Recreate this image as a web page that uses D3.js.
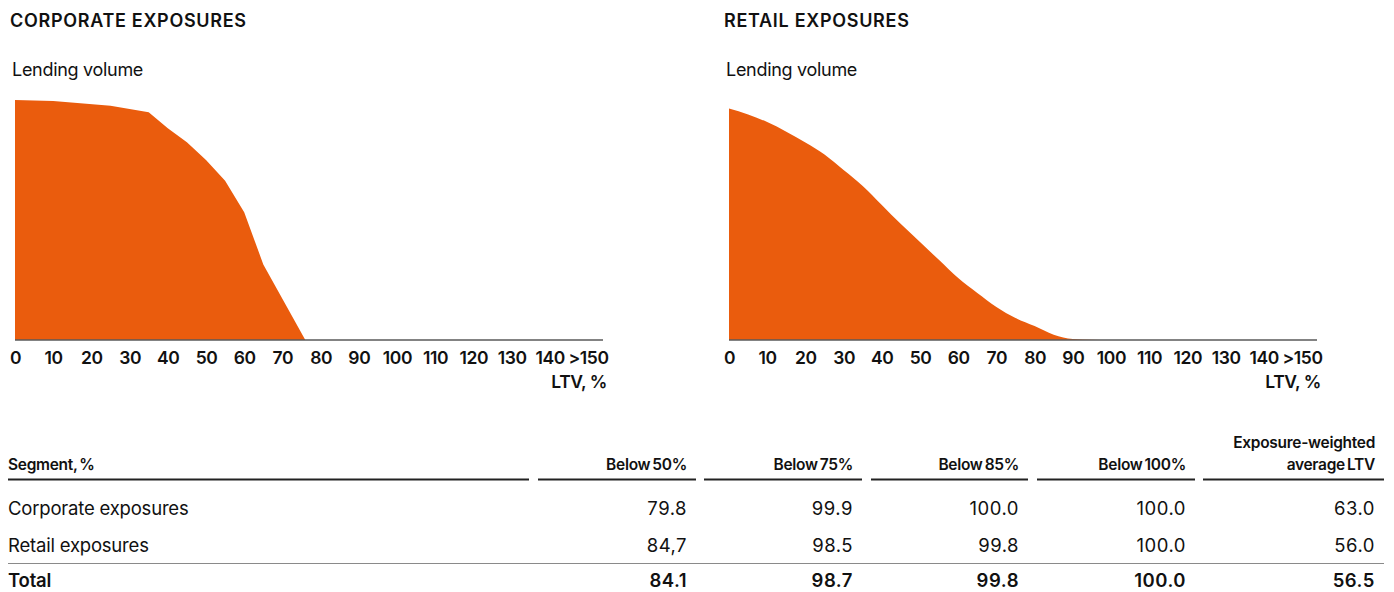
<!DOCTYPE html>
<html>
<head>
<meta charset="utf-8">
<script src="https://cdn.jsdelivr.net/npm/d3@7"></script>
<style>
  html, body { margin: 0; padding: 0; background: #fff; }
  svg { display: block; font-family: Inter, "Noto Sans", sans-serif; }
</style>
</head>
<body>
<svg id="chart" width="1394" height="592"></svg>
<script>
// LTV distribution of lending volume (relative volume, 100 = peak of corporate curve)
const corporateLTV    = [0, 10, 25, 35, 40, 45, 50, 55, 60, 65, 76];
const corporateVolume = [100, 99.6, 97.6, 94.9, 88.2, 82.4, 75, 66.4, 53.2, 31.5, 0];

const retailLTV    = [0, 5, 10, 15, 20, 25, 30, 35, 40, 45, 50, 55, 60, 65, 70, 75, 80, 85, 90, 95, 100];
const retailVolume = [96.5, 94.0, 90.8, 86.8, 82.3, 77.3, 70.8, 64.2, 56.3, 48.3, 40.8, 33.3, 25.8, 19.6, 13.8, 9.2, 5.8, 2.2, 0.4, 0.1, 0];

const tickValues = [0, 10, 20, 30, 40, 50, 60, 70, 80, 90, 100, 110, 120, 130, 140, 150];
const tickLabels = ["0", "10", "20", "30", "40", "50", "60", "70", "80", "90", "100", "110", "120", "130", "140", ">150"];

// Summary table
const columnHeaders = ["Segment, %", "Below 50%", "Below 75%", "Below 85%", "Below 100%", "Exposure-weighted|average LTV"];
const rowLabels = ["Corporate exposures", "Retail exposures", "Total"];
const below50  = ["79.8", "84,7", "84.1"];
const below75  = ["99.9", "98.5", "98.7"];
const below85  = ["100.0", "99.8", "99.8"];
const below100 = ["100.0", "100.0", "100.0"];
const avgLTV   = ["63.0", "56.0", "56.5"];

const svg = d3.select("#chart");
const ORANGE = "#EA5C0D";

const panels = [
  { title: "CORPORATE EXPOSURES", ltv: corporateLTV, vol: corporateVolume, left: 15, curve: d3.curveLinear },
  { title: "RETAIL EXPOSURES",    ltv: retailLTV,    vol: retailVolume,    left: 729, curve: d3.curveMonotoneX }
];

const plotTop = 100, plotBottom = 340, plotWidth = 588, scaleWidth = 573;
const y = d3.scaleLinear().domain([0, 100]).range([plotBottom, plotTop]);

panels.forEach(p => {
  const g = svg.append("g");
  const x = d3.scaleLinear().domain([0, 150]).range([p.left, p.left + scaleWidth]);

  g.append("text")
    .attr("x", p.left - 5).attr("y", 27)
    .attr("font-size", 18).attr("font-weight", 600)
    .attr("letter-spacing", 0.7)
    .attr("fill", "#111")
    .text(p.title);

  g.append("text")
    .attr("x", p.left - 3).attr("y", 76)
    .attr("font-size", 18).attr("font-weight", 400)
    .attr("letter-spacing", -0.3)
    .attr("fill", "#111")
    .text("Lending volume");

  const pts = p.ltv.map((v, i) => [v, p.vol[i]]);
  const area = d3.area()
    .x(d => x(d[0]))
    .y0(y(0))
    .y1(d => y(d[1]))
    .curve(p.curve);

  g.append("path")
    .datum(pts)
    .attr("d", area)
    .attr("fill", ORANGE);

  // baseline
  g.append("line")
    .attr("x1", p.left).attr("x2", p.left + plotWidth)
    .attr("y1", plotBottom).attr("y2", plotBottom)
    .attr("stroke", "#5a5a5a").attr("stroke-width", 1.6);

  const axis = d3.axisBottom(x)
    .tickValues(tickValues)
    .tickFormat((d, i) => tickLabels[i])
    .tickSize(0).tickPadding(0);

  const ag = g.append("g")
    .attr("transform", `translate(0,${plotBottom})`)
    .call(axis);
  ag.select(".domain").remove();
  ag.selectAll("text")
    .attr("y", 24)
    .attr("dy", 0)
    .attr("font-family", "Inter, sans-serif")
    .attr("font-size", 17.5).attr("font-weight", 600)
    .attr("letter-spacing", -0.4)
    .attr("fill", "#111");

  g.append("text")
    .attr("x", p.left + plotWidth + 4).attr("y", 388)
    .attr("text-anchor", "end")
    .attr("font-size", 17.5).attr("font-weight", 600)
    .attr("letter-spacing", -0.4)
    .attr("fill", "#111")
    .text("LTV, %");
});

// ---------- Table ----------
const cols = [
  { x0: 8,    x1: 529,  anchor: "start" },
  { x0: 538,  x1: 696,  anchor: "end" },
  { x0: 704,  x1: 862,  anchor: "end" },
  { x0: 871,  x1: 1028, anchor: "end" },
  { x0: 1037, x1: 1195, anchor: "end" },
  { x0: 1203, x1: 1384, anchor: "end" }
];
const pad = 9;
const tg = svg.append("g");

columnHeaders.forEach((h, i) => {
  const c = cols[i];
  const lines = h.split("|");
  const tx = c.anchor === "start" ? c.x0 : c.x1 - pad;
  lines.forEach((ln, j) => {
    tg.append("text")
      .attr("x", tx)
      .attr("y", 470 - (lines.length - 1 - j) * 22)
      .attr("text-anchor", c.anchor)
      .attr("font-size", 15.5).attr("font-weight", 600)
      .attr("letter-spacing", -0.3)
      .attr("word-spacing", -1.5)
      .attr("fill", "#111")
      .text(ln);
  });
  tg.append("line")
    .attr("x1", c.x0).attr("x2", c.x1)
    .attr("y1", 479.5).attr("y2", 479.5)
    .attr("stroke", "#222").attr("stroke-width", 2);
});

const columns = [rowLabels, below50, below75, below85, below100, avgLTV];
const rowY = [515, 552, 587];
rowLabels.forEach((r, ri) => {
  const bold = ri === rowLabels.length - 1;
  columns.forEach((col, ci) => {
    const c = cols[ci];
    tg.append("text")
      .attr("x", c.anchor === "start" ? c.x0 : c.x1 - pad)
      .attr("y", rowY[ri])
      .attr("text-anchor", c.anchor)
      .attr("font-size", 18.5).attr("font-weight", bold ? 600 : 400)
      .attr("letter-spacing", ci === 0 ? -0.2 : 0.5)
      .attr("fill", "#111")
      .text(col[ri]);
  });
});

tg.append("line")
  .attr("x1", 8).attr("x2", 1384)
  .attr("y1", 563.5).attr("y2", 563.5)
  .attr("stroke", "#8a8a8a").attr("stroke-width", 1);
</script>
</body>
</html>
